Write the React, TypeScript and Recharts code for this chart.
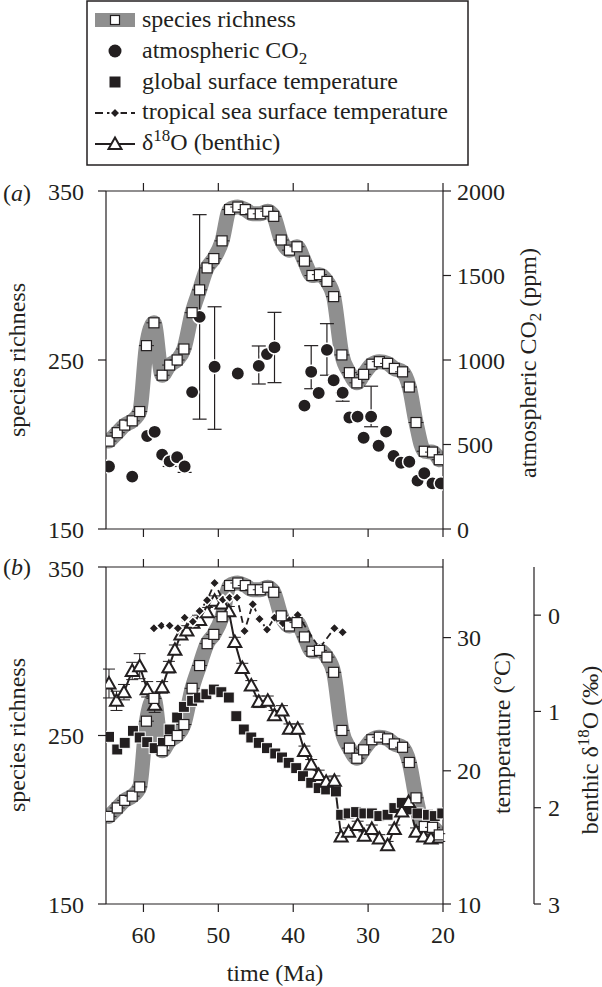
import React from 'react';
import { ComposedChart, Line, Scatter, XAxis, YAxis, ErrorBar } from 'recharts';

const FONT = '"Liberation Serif", "Times New Roman", serif';
const INK = '#231f20';
const BAND = '#8f8f8f';

// species richness (both panels)
const srTime = [64.6, 63.5, 62.5, 61.5, 60.5, 59.6, 58.6, 57.5, 56.5, 55.5, 54.6, 53.5, 52.5, 51.5, 50.6, 49.5, 48.5, 47.4, 46.4, 45.4, 44.4, 43.4, 42.6, 41.6, 40.5, 39.5, 38.5, 37.5, 36.5, 35.5, 34.6, 33.5, 32.5, 31.5, 30.6, 29.5, 28.5, 27.4, 26.5, 25.4, 24.5, 23.6, 22.5, 21.4, 20.5];
const srValue = [202, 207, 211.5, 214, 219.5, 258.5, 272, 241, 247, 250, 256.5, 278, 291.5, 304.5, 310, 320.5, 339, 340.5, 339, 336.5, 336.5, 338, 335, 321, 315, 317, 308.5, 300, 300.5, 296.5, 287.5, 253, 242.5, 236.5, 241.5, 247.5, 249, 248, 245, 243, 234, 213, 196, 195.5, 191];

// atmospheric CO2 (ppm), with lower / upper error (null = none drawn)
const co2Time = [64.6, 61.5, 59.5, 58.5, 57.5, 56.5, 55.5, 54.5, 53.5, 52.5, 50.5, 47.4, 44.6, 43.5, 42.5, 38.5, 37.6, 36.6, 35.5, 34.6, 33.4, 32.5, 31.4, 30.6, 29.6, 28.6, 27.6, 26.6, 25.6, 24.5, 23.4, 22.5, 21.4, 20.3];
const co2Value = [370, 310, 550, 575, 440, 400, 425, 370, 810, 1255, 960, 920, 965, 1035, 1075, 730, 930, 805, 1060, 880, 806, 660, 665, 540, 665, 493, 576, 432, 392, 398, 286, 330, 270, 270];
const co2ErrLow = [null, null, null, null, null, 30, 30, 35, null, 605, 370, null, 107, null, 209, null, 100, null, 150, null, 50, null, null, null, 60, null, null, null, null, null, null, null, null, null];
const co2ErrHigh = [null, null, null, null, null, 0, 0, 0, null, 605, 355, null, 118, null, 207, null, 155, null, 155, null, 0, null, null, null, 180, null, null, null, null, null, null, null, null, null];

// global surface temperature (deg C)
const gtTime = [64.6, 63.5, 62.5, 61.4, 60.5, 59.5, 58.5, 57.4, 56.5, 55.5, 54.6, 53.5, 52.6, 51.6, 50.6, 49.6, 48.6, 47.6, 46.6, 45.6, 44.6, 43.5, 42.4, 41.5, 40.6, 39.6, 38.7, 37.6, 36.6, 35.6, 34.3, 33.6, 32.6, 31.6, 30.5, 29.5, 28.5, 27.4, 26.5, 25.5, 24.5, 23.4, 22.0, 21.1, 20.1];
const gtValue = [22.55, 21.6, 22.1, 23.0, 22.5, 22.15, 21.7, 22.1, 23.1, 24.0, 24.8, 25.25, 25.5, 25.75, 26.1, 25.9, 25.5, 24.1, 23.1, 22.5, 22.1, 21.7, 21.3, 21.0, 20.6, 20.2, 19.6, 19.1, 18.7, 18.6, 18.45, 16.7, 16.8, 16.9, 16.8, 16.8, 16.6, 16.7, 17.2, 17.6, 17.1, 16.8, 16.7, 16.6, 16.8];

// tropical sea surface temperature (deg C)
const sstTime = [58.6, 57.6, 56.5, 55.4, 54.5, 53.4, 52.5, 51.5, 50.5, 49.4, 48.5, 47.5, 46.5, 45.4, 44.5, 43.5, 42.5, 41.4, 40.5, 39.4, 36.5, 34.5, 33.4];
const sstValue = [30.7, 30.9, 30.9, 30.7, 31.5, 31.2, 32.0, 32.8, 34.1, 32.85, 33.0, 33.0, 30.5, 32.5, 31.4, 30.6, 31.5, 31.1, 31.3, 31.7, 29.2, 30.7, 30.4];

// benthic d18O (permil)
const d18Time = [64.6, 63.6, 62.6, 61.5, 60.5, 59.5, 58.5, 57.5, 56.6, 55.8, 55.0, 54.2, 53.4, 52.5, 51.5, 50.5, 49.5, 48.6, 47.8, 46.8, 45.6, 44.6, 43.4, 42.5, 41.5, 40.5, 39.4, 38.5, 37.6, 36.6, 35.6, 34.5, 33.6, 32.6, 31.4, 30.5, 29.5, 28.5, 27.4, 26.5, 25.5, 24.6, 23.6, 22.6, 21.6, 20.5];
const d18Value = [0.71, 0.89, 0.80, 0.58, 0.53, 0.77, 0.93, 0.75, 0.54, 0.36, 0.20, 0.16, 0.08, 0.05, -0.03, -0.15, -0.12, -0.04, 0.28, 0.55, 0.73, 0.90, 0.89, 1.04, 0.99, 1.18, 1.18, 1.41, 1.55, 1.66, 1.73, 1.72, 2.30, 2.25, 2.18, 2.29, 2.22, 2.32, 2.39, 2.22, 2.04, 1.94, 2.25, 2.30, 2.32, 2.31];
const d18Err = [0.15, 0.1, 0.08, 0.09, 0.13, 0.08, 0.08, 0.06, 0.06, 0.05, 0.05, 0.05, 0.05, 0.05, 0.05, 0.05, 0.05, 0.05, 0.05, 0.05, 0.05, 0.06, 0.05, 0.05, 0.05, 0.05, 0.05, 0.05, 0.05, 0.05, 0.05, 0.05, 0.04, 0.04, 0.04, 0.04, 0.04, 0.04, 0.04, 0.04, 0.04, 0.04, 0.04, 0.04, 0.04, 0.04];

const xTicks = [60, 50, 40, 30, 20];
const srTicks = [150, 250, 350];
const co2Ticks = [0, 500, 1000, 1500, 2000];
const tempTicks = [10, 20, 30];
const d18Ticks = [0, 1, 2, 3];

const srData = srTime.map((t, i) => ({ t, v: srValue[i] }));
const co2Data = co2Time.map((t, i) => ({
  t, v: co2Value[i], err: co2ErrLow[i] == null ? null : [co2ErrLow[i], co2ErrHigh[i]],
}));
const gtData = gtTime.map((t, i) => ({ t, v: gtValue[i] }));
const sstData = sstTime.map((t, i) => ({ t, v: sstValue[i] }));
const d18Data = d18Time.map((t, i) => ({ t, v: d18Value[i], e: d18Err[i] }));

const tickStyle = { fontFamily: FONT, fontSize: 24, fill: INK };
const axisLine = { stroke: INK, strokeWidth: 1.2 };
const tickLine = { stroke: INK, strokeWidth: 1.2 };
const blank = () => '';

function whiteSquare(p: any) {
  const { cx, cy, index } = p;
  if (cx == null || cy == null) return <g key={`ws-${index}`} />;
  return (
    <g key={`ws-${index}`}>
      <line x1={cx - 7.5} x2={cx + 7.5} y1={cy} y2={cy} stroke={INK} strokeWidth={1} />
      <rect x={cx - 5} y={cy - 5} width={10} height={10} fill="#fff" stroke={INK} strokeWidth={1.2} />
    </g>
  );
}

function blackCircle(p: any) {
  return <circle cx={p.cx} cy={p.cy} r={6.7} fill={INK} stroke="#fff" strokeWidth={1.5} />;
}

function blackSquare(p: any) {
  return <rect x={p.cx - 5.5} y={p.cy - 5.5} width={11} height={11} fill={INK} stroke="#fff" strokeWidth={1} />;
}

function diamond(p: any) {
  const { cx, cy, index } = p;
  if (cx == null || cy == null) return <g key={`dm-${index}`} />;
  return (
    <polygon key={`dm-${index}`} points={`${cx},${cy - 5} ${cx + 5},${cy} ${cx},${cy + 5} ${cx - 5},${cy}`}
      fill={INK} stroke="#fff" strokeWidth={1.5} />
  );
}

function triangle(p: any) {
  const { cx, cy, index } = p;
  if (cx == null || cy == null) return <g key={`tr-${index}`} />;
  return (
    <polygon key={`tr-${index}`} points={`${cx},${cy - 6.5} ${cx + 6.5},${cy + 5} ${cx - 6.5},${cy + 5}`}
      fill="#fff" stroke={INK} strokeWidth={2} strokeLinejoin="miter" />
  );
}

function VTitle({ x, y, children }: { x: number; y: number; children: React.ReactNode }) {
  return (
    <div style={{
      position: 'absolute', left: x, top: y, transform: 'translate(-50%, -50%) rotate(-90deg)',
      whiteSpace: 'nowrap', fontFamily: FONT, fontSize: 24, color: INK, lineHeight: 1,
    }}>{children}</div>
  );
}

function Txt({ x, y, children }: { x: number; y: number; children: React.ReactNode }) {
  return (
    <div style={{
      position: 'absolute', left: x, top: y, transform: 'translate(0, -50%)',
      whiteSpace: 'nowrap', fontFamily: FONT, fontSize: 24, color: INK, lineHeight: 1,
    }}>{children}</div>
  );
}

function LegendBox() {
  const tx = 142;
  const rows = [27, 58, 89, 119, 150];
  return (
    <svg width={602} height={170} style={{ position: 'absolute', left: 0, top: 0 }}>
      <rect x={87} y={1} width={381} height={164} fill="#fff" stroke={INK} strokeWidth={1.5} />
      <rect x={95} y={13} width={40} height={14} fill={BAND} />
      <rect x={110.5} y={15.5} width={9} height={9} fill="#fff" stroke={INK} strokeWidth={1.2} />
      <circle cx={115} cy={51} r={6.5} fill={INK} />
      <rect x={109.5} y={76.5} width={11} height={11} fill={INK} />
      <line x1={95} x2={135} y1={113} y2={113} stroke={INK} strokeWidth={1.8} strokeDasharray="8 4" />
      <polygon points="115,108 120,113 115,118 110,113" fill={INK} stroke="#fff" strokeWidth={1.5} />
      <line x1={95} x2={135} y1={144} y2={144} stroke={INK} strokeWidth={2} />
      <polygon points="115,137.5 121.5,149 108.5,149" fill="#fff" stroke={INK} strokeWidth={2} />
      <g fontFamily={FONT} fontSize={24} fill={INK}>
        <text x={tx} y={rows[0]}>species richness</text>
        <text x={tx} y={rows[1]}>atmospheric CO<tspan dy={6} fontSize={17}>2</tspan></text>
        <text x={tx} y={rows[2]}>global surface temperature</text>
        <text x={tx} y={rows[3]}>tropical sea surface temperature</text>
        <text x={tx} y={rows[4]}>δ<tspan dy={-9} fontSize={17}>18</tspan><tspan dy={9}>O (benthic)</tspan></text>
      </g>
    </svg>
  );
}

function PanelA() {
  return (
    <div style={{ position: 'absolute', left: 0, top: 170 }}>
      <ComposedChart width={602} height={380} margin={{ top: 15, right: 0, bottom: 0, left: 0 }}>
        <XAxis xAxisId="b" type="number" dataKey="t" domain={[20, 65]} reversed allowDataOverflow ticks={xTicks}
          height={21} tickSize={8} tickFormatter={blank} axisLine={axisLine} tickLine={tickLine} tick={tickStyle} />
        <XAxis xAxisId="top" orientation="top" type="number" dataKey="t" domain={[20, 65]} reversed allowDataOverflow
          ticks={xTicks} height={6} tickSize={8} tickFormatter={blank} axisLine={axisLine} tickLine={tickLine} tick={tickStyle} />
        <YAxis yAxisId="sr" type="number" domain={[150, 350]} ticks={srTicks} width={106} tickSize={8} tickMargin={14}
          axisLine={axisLine} tickLine={tickLine} tick={tickStyle} />
        <YAxis yAxisId="co2" orientation="right" type="number" domain={[0, 2000]} ticks={co2Ticks} width={159}
          tickSize={8} tickMargin={6} axisLine={axisLine} tickLine={tickLine} tick={tickStyle} />
        <Line xAxisId="b" yAxisId="sr" data={srData} dataKey="v" type="monotone" stroke={BAND} strokeWidth={15}
          strokeLinecap="round" strokeLinejoin="round" dot={whiteSquare} activeDot={false} isAnimationActive={false} />
        <Scatter xAxisId="b" yAxisId="co2" data={co2Data} dataKey="v" shape={blackCircle} isAnimationActive={false}>
          <ErrorBar dataKey="err" direction="y" width={7} stroke={INK} strokeWidth={1.2} isAnimationActive={false} />
        </Scatter>
      </ComposedChart>
    </div>
  );
}

function PanelB() {
  return (
    <div style={{ position: 'absolute', left: 0, top: 555 }}>
      <ComposedChart width={602} height={432} margin={{ top: 6, right: 0, bottom: 0, left: 0 }}>
        <XAxis xAxisId="b" type="number" dataKey="t" domain={[20, 65]} reversed allowDataOverflow ticks={xTicks}
          height={83} tickSize={8} tickMargin={14} axisLine={axisLine} tickLine={tickLine} tick={tickStyle} />
        <XAxis xAxisId="top" orientation="top" type="number" dataKey="t" domain={[20, 65]} reversed allowDataOverflow
          ticks={xTicks} height={6} tickSize={8} tickFormatter={blank} axisLine={axisLine} tickLine={tickLine} tick={tickStyle} />
        <YAxis yAxisId="sr" type="number" domain={[150, 350]} ticks={srTicks} width={106} tickSize={8} tickMargin={14}
          axisLine={axisLine} tickLine={tickLine} tick={tickStyle} />
        <YAxis yAxisId="r1temp" orientation="right" type="number" domain={[10, 35.3]} allowDataOverflow ticks={tempTicks}
          width={91} tickSize={8} tickMargin={6} axisLine={axisLine} tickLine={tickLine} tick={tickStyle} />
        <YAxis yAxisId="r2d18" orientation="right" type="number" domain={[-0.5, 3]} reversed allowDataOverflow ticks={d18Ticks}
          width={68} tickSize={7} tickMargin={7} axisLine={axisLine} tickLine={tickLine} tick={tickStyle} />
        <Scatter xAxisId="b" yAxisId="r1temp" data={gtData} dataKey="v" shape={blackSquare} isAnimationActive={false} />
        <Line xAxisId="b" yAxisId="sr" data={srData} dataKey="v" type="monotone" stroke={BAND} strokeWidth={15}
          strokeLinecap="round" strokeLinejoin="round" dot={whiteSquare} activeDot={false} isAnimationActive={false} />
        <Line xAxisId="b" yAxisId="r2d18" data={d18Data} dataKey="v" type="linear" stroke={INK} strokeWidth={2}
          dot={triangle} activeDot={false} isAnimationActive={false}>
          <ErrorBar dataKey="e" direction="y" width={6} stroke={INK} strokeWidth={1} isAnimationActive={false} />
        </Line>
        <Line xAxisId="b" yAxisId="r1temp" data={sstData} dataKey="v" type="linear" stroke={INK} strokeWidth={1.8}
          strokeDasharray="7 4" dot={diamond} activeDot={false} isAnimationActive={false} />
      </ComposedChart>
    </div>
  );
}

export default function App() {
  return (
    <div style={{ position: 'absolute', left: 0, top: 0, width: 602, height: 987, background: '#fff', overflow: 'hidden' }}>
      <LegendBox />
      <PanelA />
      <PanelB />
      <Txt x={3} y={193}>(<i>a</i>)</Txt>
      <Txt x={3} y={567}>(<i>b</i>)</Txt>
      <VTitle x={17} y={360}>species richness</VTitle>
      <VTitle x={17} y={735}>species richness</VTitle>
      <VTitle x={530} y={363}>atmospheric CO<sub style={{ fontSize: 17 }}>2</sub> (ppm)</VTitle>
      <VTitle x={502} y={733}>temperature (°C)</VTitle>
      <VTitle x={588} y={750}>benthic δ<sup style={{ fontSize: 17 }}>18</sup>O (‰)</VTitle>
      <div style={{ position: 'absolute', left: 275, top: 973, transform: 'translate(-50%, -50%)', whiteSpace: 'nowrap',
        fontFamily: FONT, fontSize: 24, color: INK, lineHeight: 1 }}>time (Ma)</div>
    </div>
  );
}
